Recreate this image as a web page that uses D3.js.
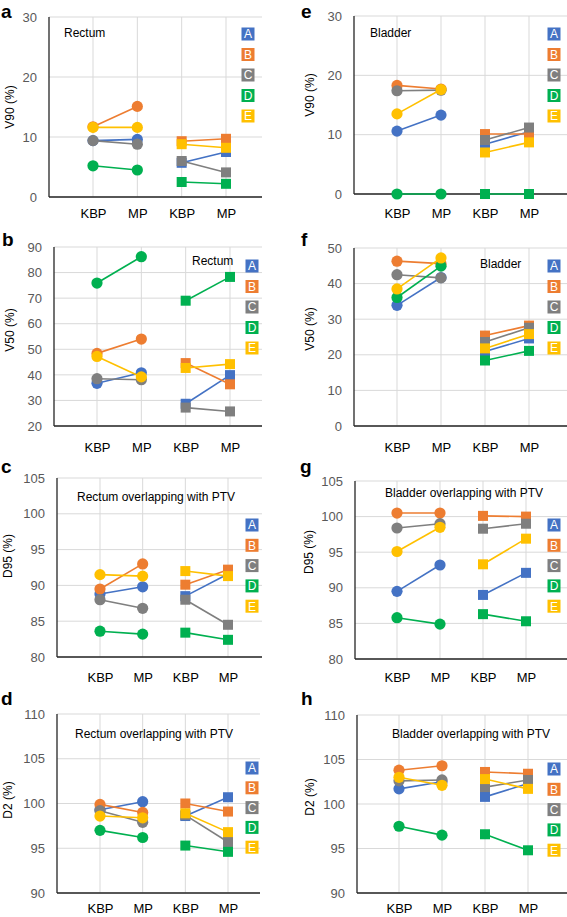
<!DOCTYPE html>
<html><head><meta charset="utf-8">
<script src="https://cdn.jsdelivr.net/npm/d3@7"></script>
<style>html,body{margin:0;padding:0;background:#fff;}svg{display:block;}</style>
</head><body>
<svg id="chart" width="567" height="917"></svg>
<script>
// ---------- DATA ----------
const categories = ["KBP", "MP", "KBP", "MP"];
const seriesNames = ["A", "B", "C", "D", "E"];

// rows: A, B, C, D, E ; columns: KBP, MP (circles), KBP, MP (squares)
const rectumV90 = [
  [9.4, 9.6, 5.7, 7.5],
  [11.7, 15.1, 9.3, 9.7],
  [9.4, 8.8, 6.0, 4.1],
  [5.2, 4.5, 2.5, 2.2],
  [11.6, 11.6, 8.8, 8.2]
];
const bladderV90 = [
  [10.6, 13.3, 8.4, 10.5],
  [18.3, 17.7, 10.1, 10.1],
  [17.4, 17.5, 9.1, 11.2],
  [0, 0, 0, 0],
  [13.5, 17.6, 7.0, 8.7]
];
const rectumV50 = [
  [36.7, 40.8, 28.7, 39.9],
  [48.4, 54.0, 44.6, 36.3],
  [38.5, 38.1, 27.2, 25.7],
  [75.9, 86.2, 69.0, 78.3],
  [47.2, 39.2, 42.7, 44.2]
];
const bladderV50 = [
  [33.9, 41.7, 20.9, 24.6],
  [46.3, 45.6, 25.4, 28.2],
  [42.5, 41.6, 23.6, 27.6],
  [36.1, 44.9, 18.4, 21.1],
  [38.5, 47.2, 21.8, 25.8]
];
const rectumD95 = [
  [88.8, 89.8, 88.5, 91.6],
  [89.5, 93.0, 90.1, 92.2],
  [88.0, 86.8, 88.0, 84.5],
  [83.6, 83.2, 83.4, 82.4],
  [91.5, 91.3, 92.0, 91.3]
];
const bladderD95 = [
  [89.5, 93.2, 89.0, 92.1],
  [100.5, 100.5, 100.1, 100.0],
  [98.4, 99.0, 98.3, 99.0],
  [85.8, 84.9, 86.3, 85.3],
  [95.1, 98.5, 93.3, 96.9]
];
const rectumD2 = [
  [99.3, 100.2, 98.6, 100.7],
  [99.9, 99.0, 100.0, 99.1],
  [99.2, 97.9, 98.7, 95.7],
  [97.0, 96.2, 95.3, 94.6],
  [98.6, 98.4, 98.9, 96.8]
];
const bladderD2 = [
  [101.7, 102.5, 100.8, 102.3],
  [103.8, 104.3, 103.6, 103.4],
  [102.6, 102.7, 101.9, 102.7],
  [97.5, 96.5, 96.6, 94.8],
  [103.0, 102.1, 102.8, 101.7]
];

const ticksV90 = [0, 10, 20, 30];
const ticksV50Rectum = [20, 30, 40, 50, 60, 70, 80, 90];
const ticksV50Bladder = [0, 10, 20, 30, 40, 50];
const ticksD95 = [80, 85, 90, 95, 100, 105];
const ticksD2 = [90, 95, 100, 105, 110];

// ---------- STYLE / LAYOUT ----------
const colors = ["#4472C4", "#ED7D31", "#7F7F7F", "#00B050", "#FFC000"];
const FONT = "'Liberation Sans', Arial, sans-serif";

const panels = [
  {letter:"a", data:rectumV90, ticks:ticksV90, title:"Rectum", ytitle:"V90 (%)",
   ax:49, right:262, top:17, bot:197, c0:93, c3:226, lx:248, ly0:34, lstep:20.5,
   tx:64, ty:33, xLabY:213, ytX:10, ytY:107, letX:1, letY:18},
  {letter:"e", data:bladderV90, ticks:ticksV90, title:"Bladder", ytitle:"V90 (%)",
   ax:354, right:567, top:16, bot:194, c0:397, c3:529, lx:554, ly0:34, lstep:20.5,
   tx:370, ty:33, xLabY:213, ytX:310, ytY:95, letX:301, letY:18},
  {letter:"b", data:rectumV50, ticks:ticksV50Rectum, title:"Rectum", ytitle:"V50 (%)",
   ax:54, right:262, top:247, bot:426, c0:97, c3:230, lx:252, ly0:266, lstep:20.5,
   tx:192, ty:261, xLabY:447, ytX:10, ytY:330, letX:2, letY:246},
  {letter:"f", data:bladderV50, ticks:ticksV50Bladder, title:"Bladder", ytitle:"V50 (%)",
   ax:354, right:567, top:248, bot:426, c0:397, c3:529, lx:554, ly0:266, lstep:20.5,
   tx:480, ty:264, xLabY:447, ytX:310, ytY:329, letX:301, letY:246},
  {letter:"c", data:rectumD95, ticks:ticksD95, title:"Rectum overlapping with PTV", ytitle:"D95 (%)",
   ax:57, right:262, top:478, bot:657, c0:100, c3:228, lx:252, ly0:525, lstep:20.3,
   tx:77, ty:497, xLabY:677, ytX:8, ytY:556, letX:1, letY:473},
  {letter:"g", data:bladderD95, ticks:ticksD95, title:"Bladder overlapping with PTV", ytitle:"D95 (%)",
   ax:355, right:567, top:481, bot:659, c0:397, c3:526, lx:554, ly0:525, lstep:20.3,
   tx:385, ty:493, xLabY:677, ytX:309, ytY:552, letX:300, letY:473},
  {letter:"d", data:rectumD2, ticks:ticksD2, title:"Rectum overlapping with PTV", ytitle:"D2 (%)",
   ax:57, right:260, top:714, bot:893, c0:100, c3:228, lx:252, ly0:768, lstep:19.8,
   tx:75, ty:734, xLabY:908, ytX:8, ytY:800, letX:1, letY:705},
  {letter:"h", data:bladderD2, ticks:ticksD2, title:"Bladder overlapping with PTV", ytitle:"D2 (%)",
   ax:357, right:567, top:715, bot:893, c0:399, c3:528, lx:554, ly0:769, lstep:20.3,
   tx:392, ty:734, xLabY:908, ytX:310, ytY:797, letX:301, letY:705}
];

const svg = d3.select("#chart");

panels.forEach(p => {
  const g = svg.append("g");
  const y = d3.scaleLinear().domain(d3.extent(p.ticks)).range([p.bot, p.top]);
  const x = d3.scalePoint().domain(d3.range(categories.length)).range([p.c0, p.c3]);

  g.selectAll(".hg").data(p.ticks).join("line")
    .attr("x1", p.ax).attr("x2", p.right)
    .attr("y1", d => y(d)).attr("y2", d => y(d))
    .attr("stroke", "#d9d9d9").attr("stroke-width", 1);
  g.selectAll(".vg").data(d3.range(categories.length)).join("line")
    .attr("x1", d => x(d)).attr("x2", d => x(d))
    .attr("y1", p.top).attr("y2", p.bot)
    .attr("stroke", "#d9d9d9").attr("stroke-width", 1);

  const yAxis = d3.axisLeft(y).tickValues(p.ticks).tickSize(0).tickPadding(12).tickFormat(d3.format("d"));
  const ya = g.append("g").attr("transform", `translate(${p.ax},0)`).call(yAxis);
  ya.select(".domain").remove();
  ya.selectAll("text").attr("fill", "#595959").style("font-family", FONT).style("font-size", "13px");

  const xAxis = d3.axisBottom(x).tickSize(0).tickPadding(0).tickFormat(i => categories[i]);
  const xa = g.append("g").attr("transform", `translate(0,${p.xLabY})`).call(xAxis);
  xa.select(".domain").remove();
  xa.selectAll("text").attr("fill", "#000").attr("dy", "0.35em").attr("y", 0)
    .style("font-family", FONT).style("font-size", "13px");

  g.append("line").attr("x1", p.ax).attr("x2", p.ax).attr("y1", p.top).attr("y2", p.bot)
    .attr("stroke", "#262626").attr("stroke-width", 1.3);
  g.append("line").attr("x1", p.ax).attr("x2", p.right).attr("y1", p.bot).attr("y2", p.bot)
    .attr("stroke", "#262626").attr("stroke-width", 1.3);

  p.data.forEach((vals, si) => {
    const col = colors[si];
    const sg = g.append("g");
    [[0, 1], [2, 3]].forEach(pair => {
      sg.append("line")
        .attr("x1", x(pair[0])).attr("y1", y(vals[pair[0]]))
        .attr("x2", x(pair[1])).attr("y2", y(vals[pair[1]]))
        .attr("stroke", col).attr("stroke-width", 1.6);
    });
    sg.selectAll("circle").data([0, 1]).join("circle")
      .attr("cx", i => x(i)).attr("cy", i => y(vals[i])).attr("r", 5.6)
      .attr("fill", col);
    const s = 10;
    sg.selectAll("rect").data([2, 3]).join("rect")
      .attr("x", i => x(i) - s / 2).attr("y", i => y(vals[i]) - s / 2)
      .attr("width", s).attr("height", s).attr("fill", col);
  });

  seriesNames.forEach((name, si) => {
    const cy = p.ly0 + si * p.lstep;
    g.append("rect").attr("x", p.lx - 6.5).attr("y", cy - 6.5).attr("width", 13).attr("height", 13)
      .attr("fill", colors[si]);
    g.append("text").attr("x", p.lx).attr("y", cy).attr("dy", "0.36em")
      .attr("text-anchor", "middle").attr("fill", "#fff")
      .style("font-family", FONT).style("font-size", "12px").text(name);
  });

  g.append("text").attr("x", p.tx).attr("y", p.ty).attr("dy", "0.35em")
    .attr("fill", "#000").style("font-family", FONT).style("font-size", "12px").text(p.title);

  g.append("text").attr("transform", `translate(${p.ytX},${p.ytY}) rotate(-90)`)
    .attr("text-anchor", "middle").attr("dy", "0.35em").attr("fill", "#000")
    .style("font-family", FONT).style("font-size", "12px").text(p.ytitle);

  g.append("text").attr("x", p.letX).attr("y", p.letY)
    .attr("fill", "#000").style("font-family", FONT).style("font-size", "19px")
    .style("font-weight", "bold").text(p.letter);
});
</script>
</body></html>
